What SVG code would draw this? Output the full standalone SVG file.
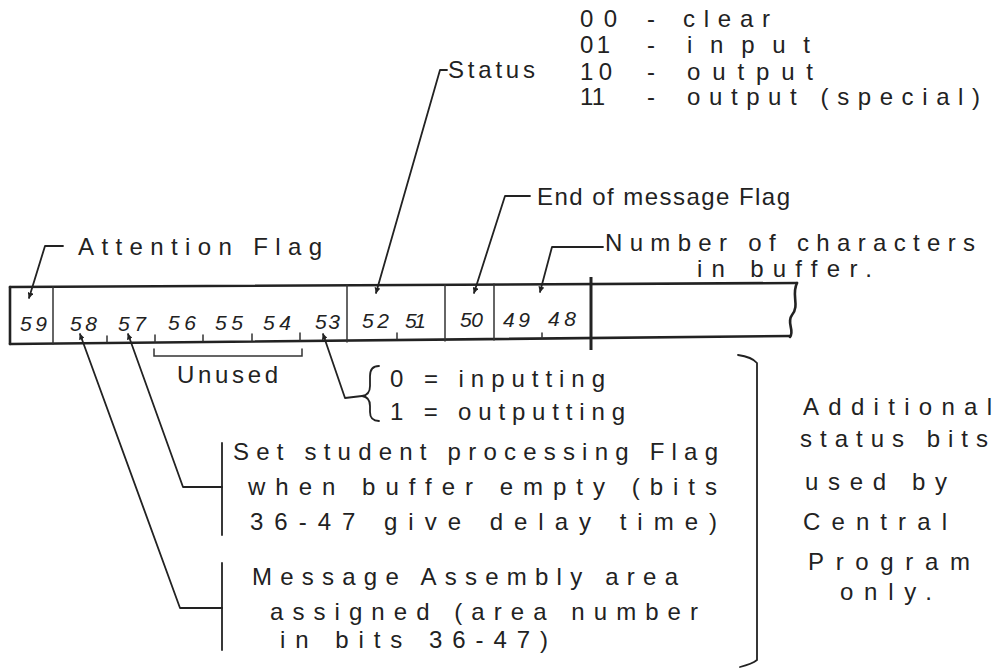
<svg xmlns="http://www.w3.org/2000/svg" width="1002" height="668" viewBox="0 0 1002 668">
<style>
  .t { font-family: "Liberation Sans", "DejaVu Sans", sans-serif; fill: #222; font-size: 24px; }
  .n { font-family: "Liberation Sans", "DejaVu Sans", sans-serif; fill: #222; font-size: 21px; font-style: italic; }
  .ln { fill: none; stroke: #222; stroke-width: 1.8; stroke-linecap: round; stroke-linejoin: round; }
  .bar { fill: none; stroke: #222; stroke-width: 2.6; stroke-linecap: round; }
  .thin { fill: none; stroke: #333; stroke-width: 1.5; stroke-linecap: round; }
</style>
<defs>
  <marker id="ah" viewBox="0 0 10 10" refX="9" refY="5" markerWidth="6" markerHeight="6" orient="auto" markerUnits="userSpaceOnUse">
    <path d="M0,0 L10,5 L0,10 Z" fill="#222"/>
  </marker>
</defs>
<rect width="1002" height="668" fill="#fff"/>

<g id="register">
  <path class="bar" d="M10,287 L797,283"/>
  <path class="bar" d="M10,344 L790,336"/>
  <path class="bar" d="M10,287 L10,344"/>
  <path class="bar" d="M797,283 C791,295 800,305 792,315 C786,323 795,330 790,337"/>
  <path class="thin" d="M53,287 L53,344"/>
  <path class="thin" d="M347,285 L347,342"/>
  <path class="thin" d="M445,285 L445,341"/>
  <path class="thin" d="M494,284 L494,340"/>
  <path d="M591,277 L591,350" stroke="#222" stroke-width="3" fill="none"/>
  <path class="thin" d="M107,336 L107,342 M155,335 L155,342 M203,335 L203,341 M252,334 L252,341 M300,333 L300,340 M397,333 L397,339 M542,333 L542,338"/>
  <text class="n" x="20" y="331" textLength="27">59</text>
  <text class="n" x="70" y="331" textLength="27">58</text>
  <text class="n" x="118" y="331" textLength="28">57</text>
  <text class="n" x="168" y="330" textLength="28">56</text>
  <text class="n" x="215" y="330" textLength="28">55</text>
  <text class="n" x="263" y="330" textLength="28">54</text>
  <text class="n" x="315" y="329" textLength="25">53</text>
  <text class="n" x="362" y="328" textLength="27">52</text>
  <text class="n" x="405" y="328" textLength="21">51</text>
  <text class="n" x="460" y="327" textLength="23">50</text>
  <text class="n" x="503" y="327" textLength="27">49</text>
  <text class="n" x="548" y="326" textLength="28">48</text>
</g>

<g id="unused">
  <path class="thin" d="M154,349 L154,356 L302,356 L302,349"/>
  <text class="t" x="177" y="383" font-size="20" textLength="101">Unused</text>
</g>

<g id="attention-flag">
  <text class="t" x="78" y="255" font-size="26" textLength="244">Attention Flag</text>
</g>

<g id="status">
  <text class="t" x="448" y="78" textLength="87">Status</text>
</g>

<g id="status-codes">
  <text class="t" x="580" y="27" textLength="37">00</text>
  <text class="t" x="647" y="27">-</text>
  <text class="t" x="683" y="27" textLength="87">clear</text>
  <text class="t" x="580" y="53" textLength="30">01</text>
  <text class="t" x="647" y="53">-</text>
  <text class="t" x="687" y="53" textLength="123">input</text>
  <text class="t" x="580" y="80" textLength="32">10</text>
  <text class="t" x="647" y="80">-</text>
  <text class="t" x="687" y="80" textLength="126">output</text>
  <text class="t" x="580" y="105" textLength="25">11</text>
  <text class="t" x="647" y="105">-</text>
  <text class="t" x="687" y="105" textLength="293">output (special)</text>
</g>

<g id="end-of-message">
  <text class="t" x="537" y="205" textLength="253">End of message Flag</text>
</g>

<g id="num-chars">
  <text class="t" x="605" y="251" font-size="22" textLength="370">Number of characters</text>
  <text class="t" x="697" y="277" font-size="22" textLength="175">in buffer.</text>
</g>

<g id="direction">
  <path class="ln" d="M379,366 Q370,366 370,376 L370,386 Q370,395 362,396 Q370,397 370,406 L370,412 Q370,421 379,421"/>
  <text class="t" x="390" y="387" textLength="215">0 = inputting</text>
  <text class="t" x="390" y="420" textLength="235">1 = outputting</text>
</g>

<g id="student-processing">
  <path class="ln" d="M222,443 L222,535"/>
  <text class="t" x="233" y="460" textLength="485">Set student processing Flag</text>
  <text class="t" x="248" y="495" textLength="469">when buffer empty (bits</text>
  <text class="t" x="250" y="530" textLength="467">36-47 give delay time)</text>
</g>

<g id="message-assembly">
  <path class="ln" d="M222,563 L222,650"/>
  <text class="t" x="252" y="585" textLength="426">Message Assembly area</text>
  <text class="t" x="270" y="620" textLength="428">assigned (area number</text>
  <text class="t" x="280" y="648" textLength="268">in bits 36-47)</text>
</g>

<g id="additional">
  <path class="ln" d="M738,355 Q752,357 757,363 L757,660 Q752,664 740,667"/>
  <text class="t" x="803" y="415" textLength="189">Additional</text>
  <text class="t" x="800" y="447" textLength="188">status bits</text>
  <text class="t" x="805" y="490" textLength="142">used by</text>
  <text class="t" x="803" y="530" textLength="144">Central</text>
  <text class="t" x="808" y="570" textLength="162">Program</text>
  <text class="t" x="840" y="600" textLength="92">only.</text>
</g>

<g id="connectors">
  <path class="ln" d="M63,246 L45,246 L29,298" marker-end="url(#ah)"/>
  <path class="ln" d="M447,70 L440,70 L376,293" marker-end="url(#ah)"/>
  <path class="ln" d="M530,196 L505,196 L474,293" marker-end="url(#ah)"/>
  <path class="ln" d="M603,247 L552,247 L540,292" marker-end="url(#ah)"/>
  <path class="ln" d="M222,608 L180,608 L80,334" marker-end="url(#ah)"/>
  <path class="ln" d="M222,487 L183,487 L128,334" marker-end="url(#ah)"/>
  <path class="ln" d="M362,396 L345,398 L323,334" marker-end="url(#ah)"/>
</g>
</svg>
